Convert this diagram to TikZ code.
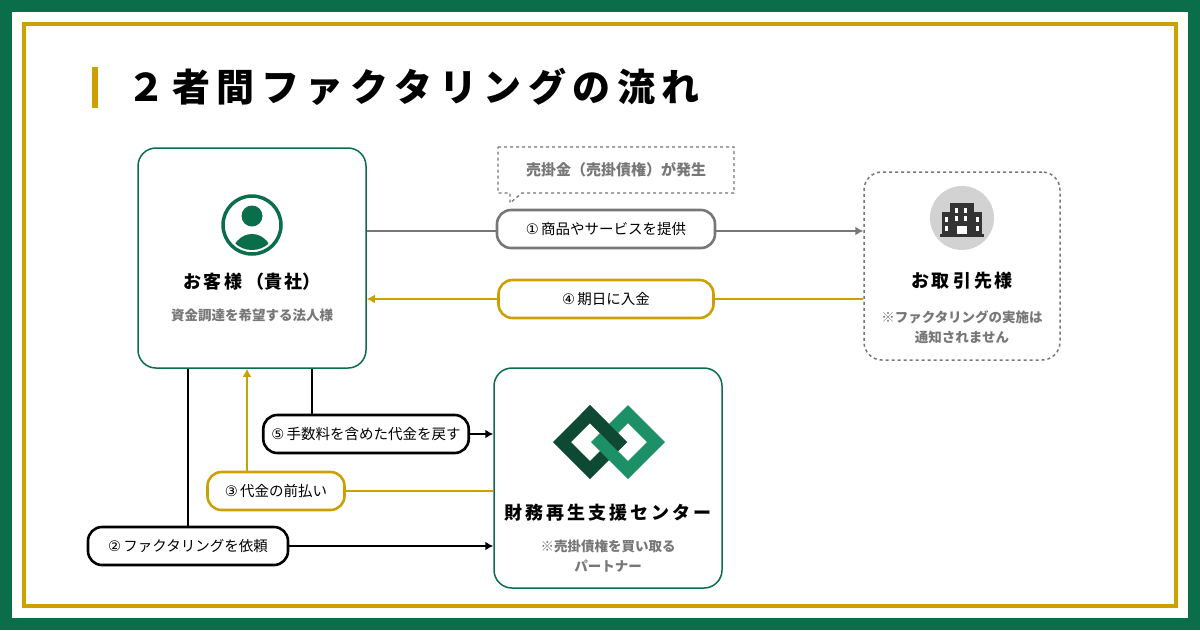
\documentclass[tikz,border=0pt]{standalone}
\usepackage{fontspec}
\usetikzlibrary{arrows.meta}
\setmainfont{Noto Sans CJK JP}
\newcommand\jpb{\bfseries}
\newfontfamily\djv{DejaVu Sans}
\newcommand\tsp{\hspace{6.5pt}}
\begin{document}
\definecolor{grn}{HTML}{0B6E4B}
\definecolor{gld}{HTML}{CCA000}
\definecolor{gry}{HTML}{777777}
\definecolor{dgrn}{HTML}{0E4A33}
\definecolor{lgrn}{HTML}{1E9068}
\begin{tikzpicture}[x=1pt,y=-1pt,
 box/.style={draw=grn,line width=1.5pt,rounded corners=18pt,fill=white},
 pill/.style={draw,line width=2.6pt,rounded corners=14pt,fill=white,minimum height=38pt,inner xsep=8pt,font=\fontsize{14.5}{16}\selectfont},
 lnk/.style={line width=2.8pt,-{Latex[length=8pt,width=9pt]}},
 nm/.style={font=\jpb\fontsize{18}{20}\selectfont},
 sb/.style={font=\jpb\fontsize{13.5}{20}\selectfont,text=gry,align=center}]
\fill[grn] (0,0) rectangle (1200,630);
\fill[white] (12,12) rectangle (1188,618);
\draw[gld,line width=4pt] (24,24) rectangle (1176,606);
\fill[gld] (92,67) rectangle (98,108);
\node[anchor=west,font=\jpb\fontsize{38}{44}\selectfont] (title) at (124,87) {２\tsp 者\tsp 間\tsp フ\tsp ァ\tsp ク\tsp タ\tsp リ\tsp ン\tsp グ\tsp の\tsp 流\tsp れ};
% boxes
\node[box,minimum width=228pt,minimum height=220pt] (cust) at (252,258) {};
\node[box,draw=gry,dashed,line width=1.5pt,minimum width=196pt,minimum height=188pt] (part) at (962,266) {};
\node[box,minimum width=228pt,minimum height=220pt] (cent) at (608,478) {};
% customer
\draw[grn,line width=3.5pt,fill=white] (252,225) circle (29);
\begin{scope}
\clip (252,225) circle (25);
\fill[grn] (252,216) circle (10.5);
\fill[grn] (252,258) ellipse (21 and 24);
\end{scope}
\node[nm] (custn) at (252,282) {お\,客\,様\,（貴\,社）};
\node[sb] (custs) at (252,315) {資金調達を希望する法人様};
% partner
\fill[gray!35] (962,218) circle (32);
\fill[black!80] (950,203) rectangle (974,236);
\fill[black!80] (942,212) rectangle (982,236);
\fill[black!80] (940,234) rectangle (984,237);
\foreach \p in {(945,217),(945,226),(976,217),(976,226),(955,208),(964,208),(955,216),(964,216)} \fill[white] \p rectangle ++(3,5);
\fill[white] (957,226) rectangle (967,234);
\node[nm] (partn) at (962,281) {お\,取\,引\,先\,様};
\node[sb] (parts) at (962,327) {※ファクタリングの実施は\\通知されません};
% logo
\fill[dgrn,even odd rule] (590,405)--(627,442)--(590,479)--(553,442)--cycle (590,423)--(609,442)--(590,461)--(571,442)--cycle;
\fill[lgrn,even odd rule] (628,405)--(665,442)--(628,479)--(591,442)--cycle (628,423)--(647,442)--(628,461)--(609,442)--cycle;
\fill[dgrn] (590,405)--(627,442)--(618,451)--(581,414)--cycle;
\node[nm] (centn) at (608,513) {財\,務\,再\,生\,支\,援\,セ\,ン\,タ\,ー};
\node[sb] (cents) at (608,556) {※売掛債権を買い取る\\パートナー};
% arrows
\draw[lnk,gry] (cust.east|-0,231) -- (part.west|-0,231);
\node[pill,draw=gry,minimum width=218pt] (p1) at (606,229) {\djv ①\,\fontspec{Noto Sans CJK JP} 商品やサービスを提供};
\draw[gry,dashed,line width=1.3pt,fill=white] (498,147)--(734,147)--(734,193)--(522,193)--(510,203)--(510,193)--(498,193)--cycle;
\node[sb,font=\jpb\fontsize{15}{16}\selectfont] (bub) at (616,170) {売掛金（売掛債権）が発生};
\draw[lnk,gld] (part.west|-0,299) -- (cust.east|-0,299);
\node[pill,draw=gld,minimum width=215pt] (p4) at (606,299) {\djv ④\,\fontspec{Noto Sans CJK JP} 期日に入金};
\coordinate (c5) at (312,434);
\draw[lnk,black] (cust.south-|c5) -- (c5) -- (cent.west|-c5);
\node[pill,draw=black,minimum width=205pt] (p5) at (366,434) {\djv ⑤\,\fontspec{Noto Sans CJK JP} 手数料を含めた代金を戻す};
\coordinate (c3) at (247,491);
\draw[lnk,gld] (cent.west|-c3) -- (c3) -- (cust.south-|c3);
\node[pill,draw=gld,minimum width=137pt] (p3) at (276,491) {\djv ③\,\fontspec{Noto Sans CJK JP} 代金の前払い};
\coordinate (c2) at (188,546);
\draw[lnk,black] (cust.south-|c2) -- (c2) -- (cent.west|-c2);
\node[pill,draw=black,minimum width=200pt] (p2) at (188,546) {\djv ②\,\fontspec{Noto Sans CJK JP} ファクタリングを依頼};
\end{tikzpicture}
\end{document}
